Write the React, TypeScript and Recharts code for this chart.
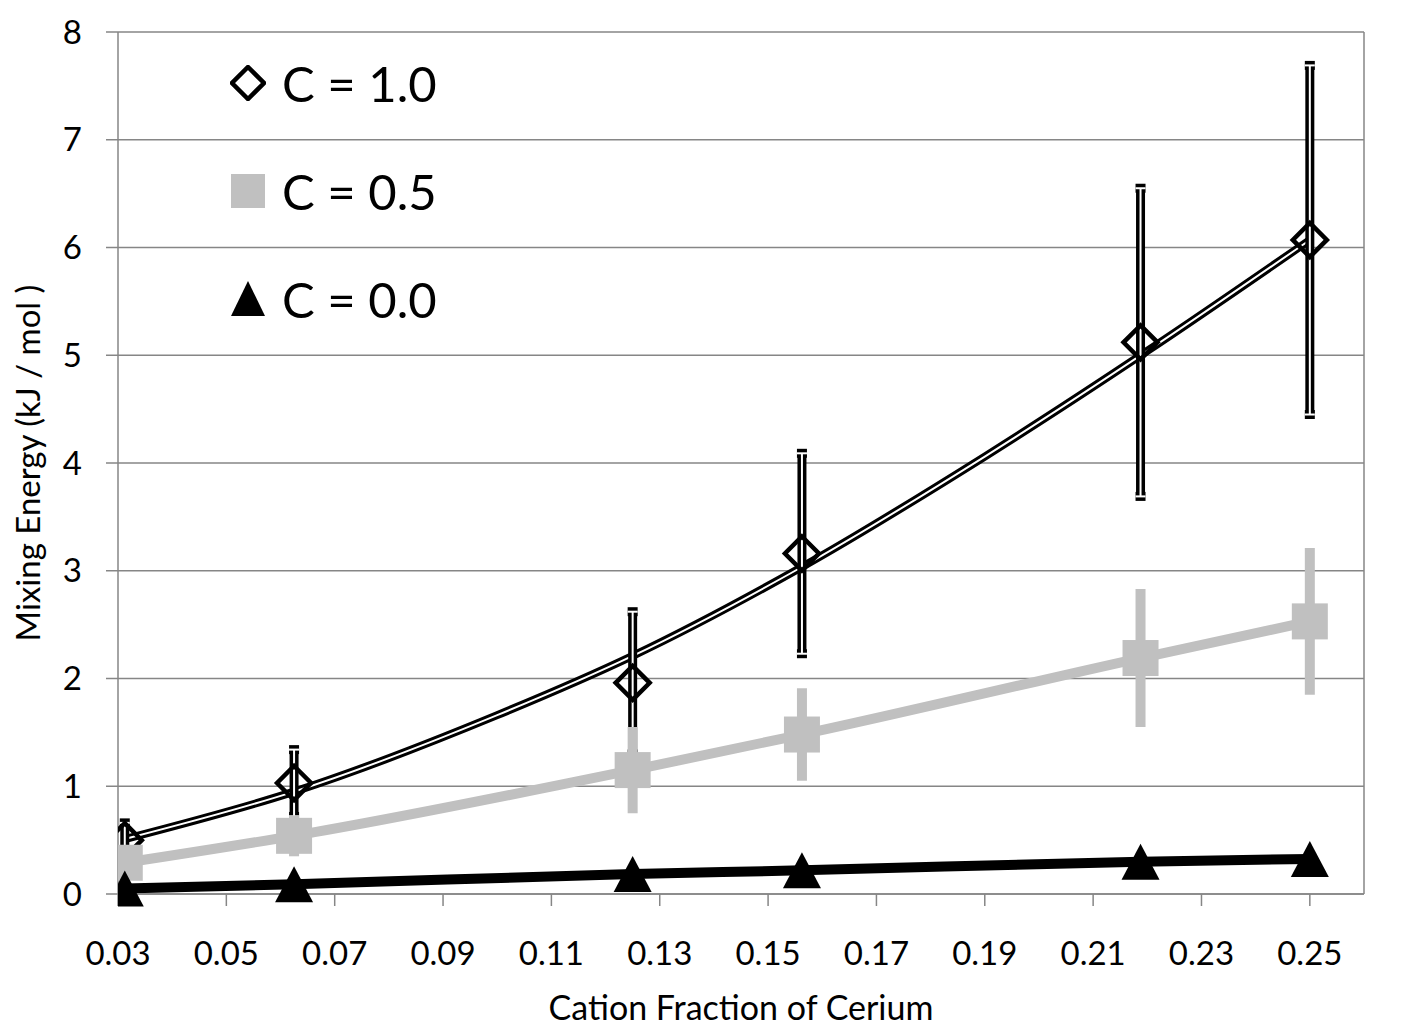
import {
  ComposedChart,
  Line,
  Scatter,
  ErrorBar,
  XAxis,
  YAxis,
  CartesianGrid,
  ReferenceLine,
  Legend,
} from 'recharts'

// cation fraction of cerium (1/32 ... 1/4)
const FRACTIONS = [0.03125, 0.0625, 0.125, 0.15625, 0.21875, 0.25]

// mixing energy, kJ/mol
const C10_VALUES = [0.5, 1.03, 1.96, 3.16, 5.12, 6.07]
const C10_ERRORS = [0.16, 0.31, 0.66, 0.93, 1.43, 1.62]
const C05_VALUES = [0.29, 0.54, 1.15, 1.48, 2.19, 2.53]
const C05_ERRORS = [0.1, 0.19, 0.4, 0.43, 0.64, 0.68]
const C00_VALUES = [0.05, 0.09, 0.185, 0.22, 0.3, 0.325]

// trend curve for C = 1.0
const FIT_X = [0.03125, 0.0625, 0.1, 0.125, 0.155, 0.19, 0.22, 0.25]
const FIT_Y = [0.51, 0.95, 1.66, 2.21, 3.0, 4.06, 5.04, 6.07]

const X_TICKS = [0.03, 0.05, 0.07, 0.09, 0.11, 0.13, 0.15, 0.17, 0.19, 0.21, 0.23, 0.25]
const Y_TICKS = [0, 1, 2, 3, 4, 5, 6, 7, 8]

const LEGEND_LABELS = ['C = 1.0', 'C = 0.5', 'C = 0.0']

const GRAY = '#C0C0C0'
const AXIS = '#868686'
const FONT = 'Lato, "Open Sans", sans-serif'

const c10 = FRACTIONS.map((x, i) => ({ x, y: C10_VALUES[i], err: C10_ERRORS[i] }))
const c05 = FRACTIONS.map((x, i) => ({ x, y: C05_VALUES[i], err: C05_ERRORS[i] }))
const c00 = FRACTIONS.map((x, i) => ({ x, y: C00_VALUES[i] }))
const fit = FIT_X.map((x, i) => ({ x, y: FIT_Y[i] }))

const Diamond = ({ cx, cy }: any) => (
  <path
    d={`M${cx},${cy - 17} L${cx + 17},${cy} L${cx},${cy + 17} L${cx - 17},${cy} Z`}
    fill="none"
    stroke="#000"
    strokeWidth={4.5}
  />
)

const Square = ({ cx, cy }: any) => <rect x={cx - 18} y={cy - 18} width={36} height={36} fill={GRAY} />

const Triangle = ({ cx, cy }: any) => (
  <path d={`M${cx},${cy - 18} L${cx + 19},${cy + 18} L${cx - 19},${cy + 18} Z`} fill="#000" />
)

function LegendBox() {
  const icons = [
    <path key="d" d="M18,2 L34,18 L18,34 L2,18 Z" fill="none" stroke="#000" strokeWidth={4.5} />,
    <rect key="s" x={1} y={1} width={34} height={34} fill={GRAY} />,
    <path key="t" d="M18,0 L35,35 L1,35 Z" fill="#000" />,
  ]
  return (
    <div style={{ fontFamily: FONT, fontSize: 49 }}>
      {LEGEND_LABELS.map((label, i) => (
        <div key={label} style={{ display: 'flex', alignItems: 'center', height: 108 }}>
          <svg width={36} height={36} style={{ marginRight: 16 }}>
            {icons[i]}
          </svg>
          <span>{label}</span>
        </div>
      ))}
    </div>
  )
}

export default function App() {
  const tickStyle = { fontFamily: FONT, fontSize: 33, fill: '#000' }
  return (
    <div style={{ position: 'absolute', left: 0, top: 0, background: '#fff' }}>
      <ComposedChart width={1426} height={1035} margin={{ top: 32, right: 62, left: 0, bottom: 0 }}>
        <CartesianGrid vertical={false} stroke={AXIS} strokeWidth={1.5} />
        <XAxis
          type="number"
          dataKey="x"
          domain={[0.03, 0.26]}
          ticks={X_TICKS}
          allowDataOverflow
          tickFormatter={(v: number) => v.toFixed(2)}
          height={141}
          tickSize={12}
          tickMargin={36}
          stroke={AXIS}
          strokeWidth={1.5}
          tick={tickStyle}
          label={{
            value: 'Cation Fraction of Cerium',
            position: 'insideBottom',
            offset: 15,
            style: { fontFamily: FONT, fontSize: 34, fill: '#000' },
          }}
        />
        <YAxis
          type="number"
          domain={[0, 8]}
          ticks={Y_TICKS}
          width={118}
          tickSize={12}
          tickMargin={24}
          stroke={AXIS}
          strokeWidth={1.5}
          tick={tickStyle}
          label={{
            value: 'Mixing Energy (kJ / mol )',
            angle: -90,
            position: 'insideLeft',
            offset: 28,
            style: { fontFamily: FONT, fontSize: 33, fill: '#000', textAnchor: 'middle' },
          }}
        />
        <ReferenceLine x={0.26} stroke={AXIS} strokeWidth={1.5} />

        <Line data={fit} dataKey="y" type="monotone" stroke="#000" strokeWidth={8} dot={false} isAnimationActive={false} />
        <Line data={fit} dataKey="y" type="monotone" stroke="#fff" strokeWidth={2} dot={false} isAnimationActive={false} />
        <Scatter data={c10} dataKey="y" shape={Diamond} isAnimationActive={false}>
          <ErrorBar dataKey="err" direction="y" width={5} stroke="#000" strokeWidth={9} />
          <ErrorBar dataKey="err" direction="y" width={5} stroke="#fff" strokeWidth={2} />
        </Scatter>

        <Line data={c05} dataKey="y" type="monotone" stroke={GRAY} strokeWidth={10} dot={false} isAnimationActive={false} />
        <Scatter data={c05} dataKey="y" shape={Square} isAnimationActive={false}>
          <ErrorBar dataKey="err" direction="y" width={0} stroke={GRAY} strokeWidth={10} />
        </Scatter>

        <Line data={c00} dataKey="y" type="monotone" stroke="#000" strokeWidth={10} dot={false} isAnimationActive={false} />
        <Scatter data={c00} dataKey="y" shape={Triangle} isAnimationActive={false} />

        <Legend
          layout="vertical"
          align="center"
          verticalAlign="middle"
          content={() => <LegendBox />}
          wrapperStyle={{ left: 230, top: 29, width: 'auto' }}
        />
      </ComposedChart>
    </div>
  )
}
